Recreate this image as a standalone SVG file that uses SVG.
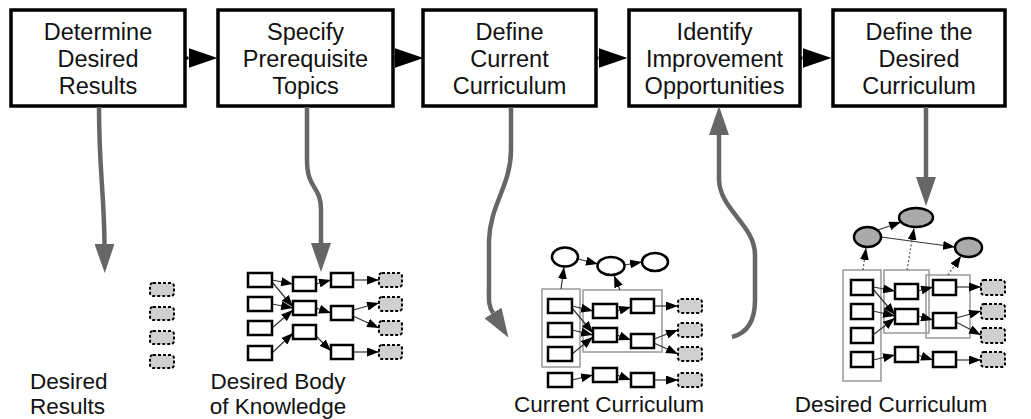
<svg xmlns="http://www.w3.org/2000/svg" width="1031" height="419" viewBox="0 0 1031 419">
<style>
.step{fill:#fff;stroke:#000;stroke-width:3.5}
.t{font-family:"Liberation Sans",Arial,sans-serif;font-size:23.5px;fill:#111;text-anchor:middle}
.lb{font-family:"Liberation Sans",Arial,sans-serif;font-size:22.5px;fill:#111}
.flow{fill:none;stroke:#666;stroke-width:4.5}
.n{fill:#fff;stroke:#000;stroke-width:2.5}
.d{fill:#d0d0d0;stroke:#000;stroke-width:2;stroke-dasharray:3,2}
.e{fill:none;stroke:#333;stroke-width:1.2}
.dot{fill:none;stroke:#555;stroke-width:1.2;stroke-dasharray:2,2}
.cl{fill:none;stroke:#999;stroke-width:1.5}
.ow{fill:#fff;stroke:#000;stroke-width:2.5}
.og{fill:#aaa;stroke:#000;stroke-width:2.5}
</style>
<defs>
<marker id="big" markerUnits="userSpaceOnUse" markerWidth="29" markerHeight="20" refX="0" refY="10" orient="auto" viewBox="0 0 29 20"><path d="M0,0L29,10L0,20z" fill="#666"/></marker>
<marker id="blk" markerUnits="userSpaceOnUse" markerWidth="29" markerHeight="20" refX="0" refY="10" orient="auto" viewBox="0 0 29 20"><path d="M0,0L29,10L0,20z" fill="#000"/></marker>
<marker id="sm" markerUnits="userSpaceOnUse" markerWidth="12" markerHeight="9" refX="12" refY="4.5" orient="auto" viewBox="0 0 12 9"><path d="M0,0L12,4.5L0,9z" fill="#000"/></marker>
</defs>

<g id="step1"><rect class="step" x="11" y="10" width="174" height="96"/><text class="t" x="98" y="39.5">Determine</text><text class="t" x="98" y="66.5">Desired</text><text class="t" x="98" y="93.5">Results</text></g>
<g id="step2"><rect class="step" x="218" y="10" width="175" height="96"/><text class="t" x="305.5" y="39.5">Specify</text><text class="t" x="305.5" y="66.5">Prerequisite</text><text class="t" x="305.5" y="93.5">Topics</text></g>
<g id="step3"><rect class="step" x="423" y="10" width="173" height="96"/><text class="t" x="509.5" y="39.5">Define</text><text class="t" x="509.5" y="66.5">Current</text><text class="t" x="509.5" y="93.5">Curriculum</text></g>
<g id="step4"><rect class="step" x="629" y="10" width="171" height="96"/><text class="t" x="714.5" y="39.5">Identify</text><text class="t" x="714.5" y="66.5">Improvement</text><text class="t" x="714.5" y="93.5">Opportunities</text></g>
<g id="step5"><rect class="step" x="833" y="10" width="172" height="96"/><text class="t" x="919" y="39.5">Define the</text><text class="t" x="919" y="66.5">Desired</text><text class="t" x="919" y="93.5">Curriculum</text></g>

<g id="connectors">
<path d="M185,58H188.5" stroke="#000" stroke-width="3" marker-end="url(#blk)"/>
<path d="M393,58H394.5" stroke="#000" stroke-width="3" marker-end="url(#blk)"/>
<path d="M596,58H598.5" stroke="#000" stroke-width="3" marker-end="url(#blk)"/>
<path d="M800,58H802.5" stroke="#000" stroke-width="3" marker-end="url(#blk)"/>
<path class="flow" d="M99,107C99,170 104,190 104.5,244" marker-end="url(#big)"/>
<path class="flow" d="M307,107V160C307,190 321,185 321,210V243" marker-end="url(#big)"/>
<path class="flow" d="M511,107V150C511,185 490,205 489,240V285C489,300 488,305 493,313" marker-end="url(#big)"/>
<path class="flow" d="M732,337C748,333 755,320 755,300V255C755,225 720,210 719,180V135" marker-end="url(#big)"/>
<path class="flow" d="M926,107V177" marker-end="url(#big)"/>
</g>

<g id="desired-results">
<rect class="d" x="150" y="283" width="24" height="13" rx="3"/>
<rect class="d" x="150" y="307" width="24" height="13" rx="3"/>
<rect class="d" x="150" y="331" width="24" height="13" rx="3"/>
<rect class="d" x="150" y="355" width="24" height="13" rx="3"/>
<text class="lb" x="30" y="389">Desired</text>
<text class="lb" x="30" y="414">Results</text>
</g>

<g id="desired-body">
<g class="edges">
<path class="e" d="M272,280L293,284" marker-end="url(#sm)"/>
<path class="e" d="M272,282L293,307" marker-end="url(#sm)"/>
<path class="e" d="M272,304L293,308" marker-end="url(#sm)"/>
<path class="e" d="M272,328L293,310" marker-end="url(#sm)"/>
<path class="e" d="M272,353L293,333" marker-end="url(#sm)"/>
<path class="e" d="M316,284L331,280" marker-end="url(#sm)"/>
<path class="e" d="M316,308L331,313" marker-end="url(#sm)"/>
<path class="e" d="M316,336L331,351" marker-end="url(#sm)"/>
<path class="e" d="M353,280L379,280" marker-end="url(#sm)"/>
<path class="e" d="M353,310L379,303" marker-end="url(#sm)"/>
<path class="e" d="M353,316L379,328" marker-end="url(#sm)"/>
<path class="e" d="M353,352L379,352" marker-end="url(#sm)"/>
</g>
<rect class="n" x="248" y="273" width="24" height="14"/>
<rect class="n" x="248" y="297" width="24" height="14"/>
<rect class="n" x="248" y="321" width="24" height="14"/>
<rect class="n" x="248" y="346" width="24" height="14"/>
<rect class="n" x="293" y="277" width="23" height="14"/>
<rect class="n" x="293" y="301" width="23" height="14"/>
<rect class="n" x="293" y="325" width="23" height="14"/>
<rect class="n" x="331" y="273" width="22" height="14"/>
<rect class="n" x="331" y="306" width="22" height="14"/>
<rect class="n" x="331" y="345" width="22" height="14"/>
<rect class="d" x="379" y="273" width="23" height="14" rx="3"/>
<rect class="d" x="379" y="297" width="23" height="14" rx="3"/>
<rect class="d" x="379" y="321" width="23" height="14" rx="3"/>
<rect class="d" x="379" y="345" width="23" height="14" rx="3"/>
<text class="lb" x="278" y="389" text-anchor="middle">Desired Body</text>
<text class="lb" x="278" y="414" text-anchor="middle">of Knowledge</text>
</g>

<g id="current-curriculum">
<rect class="cl" x="542" y="289" width="38" height="78"/>
<rect class="cl" x="583" y="290" width="79" height="62"/>
<g class="edges">
<path class="e" d="M572,306L593,311" marker-end="url(#sm)"/>
<path class="e" d="M572,308L593,333" marker-end="url(#sm)"/>
<path class="e" d="M572,330L593,335" marker-end="url(#sm)"/>
<path class="e" d="M572,354L593,337" marker-end="url(#sm)"/>
<path class="e" d="M617,311L631,307" marker-end="url(#sm)"/>
<path class="e" d="M617,335L631,340" marker-end="url(#sm)"/>
<path class="e" d="M654,306L678,306" marker-end="url(#sm)"/>
<path class="e" d="M654,339L678,330" marker-end="url(#sm)"/>
<path class="e" d="M654,343L678,354" marker-end="url(#sm)"/>
<path class="e" d="M572,380L593,375" marker-end="url(#sm)"/>
<path class="e" d="M617,375L631,380" marker-end="url(#sm)"/>
<path class="e" d="M654,380L678,380" marker-end="url(#sm)"/>
<path class="e" d="M561,289L564,267" marker-end="url(#sm)"/>
<path class="e" d="M620,290L614,275.5" marker-end="url(#sm)"/>
<path class="e" d="M578,259L598,264" marker-end="url(#sm)"/>
<path class="e" d="M624.5,265L642,262" marker-end="url(#sm)"/>
</g>
<ellipse class="ow" cx="565" cy="257" rx="13" ry="9.5"/>
<ellipse class="ow" cx="611" cy="266" rx="13.5" ry="9"/>
<ellipse class="ow" cx="655" cy="262" rx="13" ry="9"/>
<rect class="n" x="548" y="299" width="24" height="14"/>
<rect class="n" x="548" y="323" width="24" height="14"/>
<rect class="n" x="548" y="347" width="24" height="14"/>
<rect class="n" x="548" y="373" width="24" height="14"/>
<rect class="n" x="593" y="304" width="24" height="14"/>
<rect class="n" x="593" y="328" width="24" height="14"/>
<rect class="n" x="593" y="368" width="24" height="14"/>
<rect class="n" x="631" y="299" width="23" height="14"/>
<rect class="n" x="631" y="334" width="23" height="14"/>
<rect class="n" x="631" y="373" width="23" height="14"/>
<rect class="d" x="678" y="299" width="24" height="14" rx="3"/>
<rect class="d" x="678" y="323" width="24" height="14" rx="3"/>
<rect class="d" x="678" y="347" width="24" height="14" rx="3"/>
<rect class="d" x="678" y="373" width="24" height="14" rx="3"/>
<text class="lb" x="609" y="412" text-anchor="middle">Current Curriculum</text>
</g>

<g id="desired-curriculum">
<rect class="cl" x="843" y="270" width="38" height="111"/>
<rect class="cl" x="884" y="270" width="45" height="63"/>
<rect class="cl" x="926" y="275" width="44" height="63"/>
<g class="edges">
<path class="e" d="M873,287L895,291" marker-end="url(#sm)"/>
<path class="e" d="M873,289L895,315" marker-end="url(#sm)"/>
<path class="e" d="M873,311L895,316" marker-end="url(#sm)"/>
<path class="e" d="M873,335L895,318" marker-end="url(#sm)"/>
<path class="e" d="M873,360L895,355" marker-end="url(#sm)"/>
<path class="e" d="M918,291L933,287" marker-end="url(#sm)"/>
<path class="e" d="M918,316L933,320" marker-end="url(#sm)"/>
<path class="e" d="M918,355L933,360" marker-end="url(#sm)"/>
<path class="e" d="M956,287L981,287" marker-end="url(#sm)"/>
<path class="e" d="M956,318L981,311" marker-end="url(#sm)"/>
<path class="e" d="M956,322L981,335" marker-end="url(#sm)"/>
<path class="e" d="M956,360L981,360" marker-end="url(#sm)"/>
<path class="dot" d="M863,270L866,248" marker-end="url(#sm)"/>
<path class="dot" d="M907,270L914,228" marker-end="url(#sm)"/>
<path class="dot" d="M948,275L961,256" marker-end="url(#sm)"/>
<path class="e" d="M878,230L901,222" marker-end="url(#sm)"/>
<path class="e" d="M881,237L955,247" marker-end="url(#sm)"/>
</g>
<ellipse class="og" cx="867.5" cy="237" rx="13.5" ry="10"/>
<ellipse class="og" cx="916" cy="217.5" rx="17" ry="9.5"/>
<ellipse class="og" cx="968.5" cy="247.5" rx="13.5" ry="9.5"/>
<rect class="n" x="851" y="280" width="22" height="15"/>
<rect class="n" x="851" y="304" width="22" height="15"/>
<rect class="n" x="851" y="328" width="22" height="15"/>
<rect class="n" x="851" y="352" width="22" height="15"/>
<rect class="n" x="895" y="284" width="23" height="15"/>
<rect class="n" x="895" y="309" width="23" height="15"/>
<rect class="n" x="895" y="347" width="23" height="15"/>
<rect class="n" x="933" y="280" width="23" height="15"/>
<rect class="n" x="933" y="313" width="23" height="15"/>
<rect class="n" x="933" y="352" width="23" height="15"/>
<rect class="d" x="981" y="280" width="24" height="15" rx="3"/>
<rect class="d" x="981" y="304" width="24" height="15" rx="3"/>
<rect class="d" x="981" y="328" width="24" height="15" rx="3"/>
<rect class="d" x="981" y="352" width="24" height="15" rx="3"/>
<text class="lb" x="891" y="412" text-anchor="middle">Desired Curriculum</text>
</g>
</svg>
